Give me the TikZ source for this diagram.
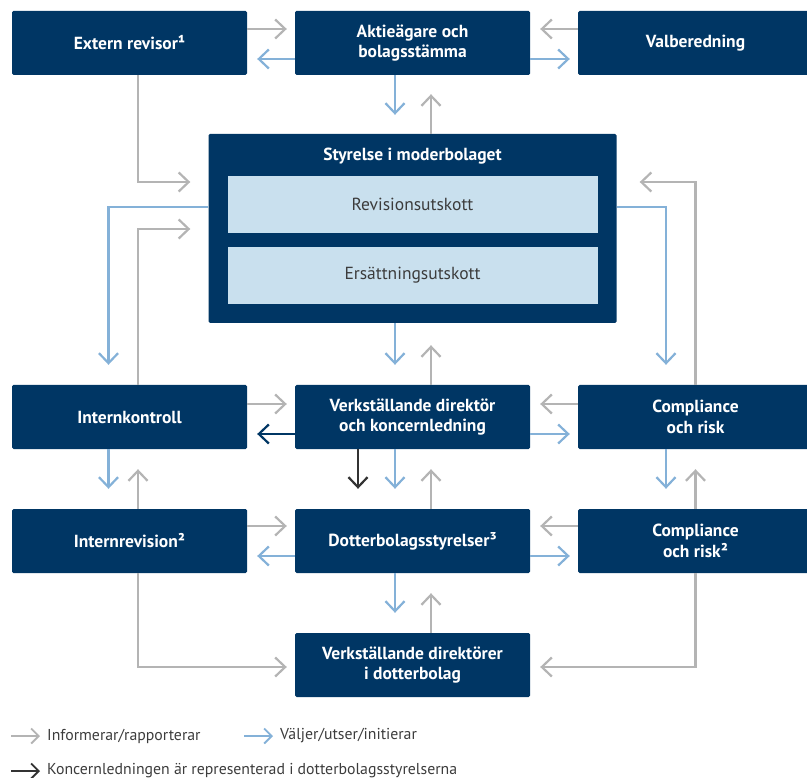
\documentclass[tikz,border=0pt]{standalone}
\usepackage{fontspec}
\setmainfont{PT Sans}
\usetikzlibrary{arrows.meta,calc}
\definecolor{navy}{HTML}{003664}
\definecolor{subbox}{HTML}{C9E0EE}
\definecolor{arrblue}{HTML}{84B1D8}
\definecolor{arrgray}{HTML}{B4B4B4}
\definecolor{arrdark}{HTML}{333333}
\definecolor{txtdark}{HTML}{3C3C3C}
\tikzset{
  box/.style={fill=navy, rounded corners=1.5pt, minimum width=235pt, minimum height=64pt, inner sep=0pt,
    text=white, font=\bfseries\fontsize{17.5}{20.5}\selectfont, align=center},
  subb/.style={fill=subbox, minimum width=370pt, minimum height=57pt, inner sep=0pt,
    text=txtdark, font=\fontsize{17.5}{20}\selectfont},
  arr/.style={line width=2.2pt, -{Straight Barb[length=10pt,width=19pt]}},
  gr/.style={arr, draw=arrgray},
  bl/.style={arr, draw=arrblue},
  nv/.style={arr, draw=navy},
  dk/.style={arr, draw=arrdark},
  larr/.style={line width=1.9pt, -{Straight Barb[length=7.5pt,width=15pt]}},
  lg/.style={anchor=west, inner sep=0pt, text=txtdark, font=\fontsize{15.8}{18}\selectfont},
}
\begin{document}
\begin{tikzpicture}[x=1pt,y=-1pt]
\useasboundingbox (0,0) rectangle (807,778);
% boxes
\node[box] (ext) at (129.5,43) {Extern revisor¹};
\node[box] (akt) at (412.5,43) {Aktieägare och\\bolagsstämma};
\node[box] (val) at (695.5,43) {Valberedning};
\node[fill=navy, rounded corners=1.5pt, minimum width=408pt, minimum height=189pt, inner sep=0pt] (sty) at (412.5,228.5) {};
\node[text=white, font=\bfseries\fontsize{17.5}{20}\selectfont, inner sep=0pt] (stt) at (412.5,156) {Styrelse i moderbolaget};
\node[subb] (rev) at (412.5,204.5) {Revisionsutskott};
\node[subb] (ers) at (412.5,275.5) {Ersättningsutskott};
\node[box] (ik) at (129.5,417) {Internkontroll};
\node[box] (vd) at (412.5,417) {Verkställande direktör\\och koncernledning};
\node[box] (cr1) at (695.5,417) {Compliance\\och risk};
\node[box] (ir) at (129.5,541) {Internrevision²};
\node[box] (db) at (412.5,541) {Dotterbolagsstyrelser³};
\node[box] (cr2) at (695.5,541) {Compliance\\och risk²};
\node[box] (vdd) at (412.5,665) {Verkställande direktörer\\i dotterbolag};
% top row
\draw[gr, shorten >=8pt] (ext.east |- 0,29) -- (akt.west |- 0,29);
\draw[bl, shorten >=10pt] (akt.west |- 0,59) -- (ext.east |- 0,59);
\draw[gr, shorten >=10pt] (val.west |- 0,29) -- (akt.east |- 0,29);
\draw[bl, shorten >=8pt] (akt.east |- 0,59) -- (val.west |- 0,59);
% akt <-> sty
\draw[bl, shorten >=19pt] (akt.south -| 395,0) -- (sty.north -| 395,0);
\draw[gr, shorten >=19pt] (sty.north -| 431,0) -- (akt.south -| 431,0);
% left side
\draw[gr, shorten >=18pt] (ext.south -| 138,0) |- (sty.west |- 0,182);
\draw[bl, shorten >=20pt] (sty.west |- 0,207) -| (ik.north -| 108.5,0);
\draw[gr, shorten >=18pt] (ik.north -| 138,0) |- (sty.west |- 0,229);
% right side
\draw[gr, shorten >=23pt] (cr1.north -| 695.5,0) |- (sty.east |- 0,182);
\draw[bl, shorten >=20pt] (sty.east |- 0,207) -| (cr1.north -| 666,0);
% sty <-> vd
\draw[bl, shorten >=20pt] (sty.south -| 395,0) -- (vd.north -| 395,0);
\draw[gr, shorten >=22pt] (vd.north -| 431,0) -- (sty.south -| 431,0);
% row 2
\draw[gr, shorten >=8pt] (ik.east |- 0,404) -- (vd.west |- 0,404);
\draw[nv, shorten >=10pt] (vd.west |- 0,434) -- (ik.east |- 0,434);
\draw[gr, shorten >=10pt] (cr1.west |- 0,404) -- (vd.east |- 0,404);
\draw[bl, shorten >=8pt] (vd.east |- 0,434) -- (cr1.west |- 0,434);
% row2 -> row3
\draw[bl, shorten >=20pt] (ik.south -| 108.5,0) -- (ir.north -| 108.5,0);
\draw[gr, shorten >=20pt] (ir.north -| 138,0) -- (ik.south -| 138,0);
\draw[dk, shorten >=20pt] (vd.south -| 358,0) -- (db.north -| 358,0);
\draw[bl, shorten >=20pt] (vd.south -| 395,0) -- (db.north -| 395,0);
\draw[gr, shorten >=20pt] (db.north -| 431,0) -- (vd.south -| 431,0);
\draw[bl, shorten >=20pt] (cr1.south -| 666,0) -- (cr2.north -| 666,0);
\draw[gr, shorten >=20pt] (cr2.north -| 695.5,0) -- (cr1.south -| 695.5,0);
% row 3
\draw[gr, shorten >=8pt] (ir.east |- 0,526) -- (db.west |- 0,526);
\draw[bl, shorten >=10pt] (db.west |- 0,556) -- (ir.east |- 0,556);
\draw[gr, shorten >=10pt] (cr2.west |- 0,526) -- (db.east |- 0,526);
\draw[bl, shorten >=8pt] (db.east |- 0,556) -- (cr2.west |- 0,556);
% row3 -> vdd
\draw[bl, shorten >=20pt] (db.south -| 395,0) -- (vdd.north -| 395,0);
\draw[gr, shorten >=20pt] (vdd.north -| 431,0) -- (db.south -| 431,0);
\draw[gr, shorten >=8pt] (ir.south -| 138,0) |- (vdd.west |- 0,667);
\draw[gr, shorten >=10pt] (cr2.south -| 695.5,0) |- (vdd.east |- 0,667);
% legend
\coordinate (la1) at (11,736); \coordinate (lb1) at (40,736);
\coordinate (la2) at (244,736); \coordinate (lb2) at (273,736);
\coordinate (la3) at (11,771); \coordinate (lb3) at (40,771);
\draw[larr, draw=arrgray] (la1) -- (lb1);
\draw[larr, draw=arrblue] (la2) -- (lb2);
\draw[larr, draw=arrdark] (la3) -- (lb3);
\node[lg] (lt1) at (47,736) {Informerar/rapporterar};
\node[lg] (lt2) at (280,736) {Väljer/utser/initierar};
\node[lg] (lt3) at (47,771) {Koncernledningen är representerad i dotterbolagsstyrelserna};
\end{tikzpicture}
\end{document}
